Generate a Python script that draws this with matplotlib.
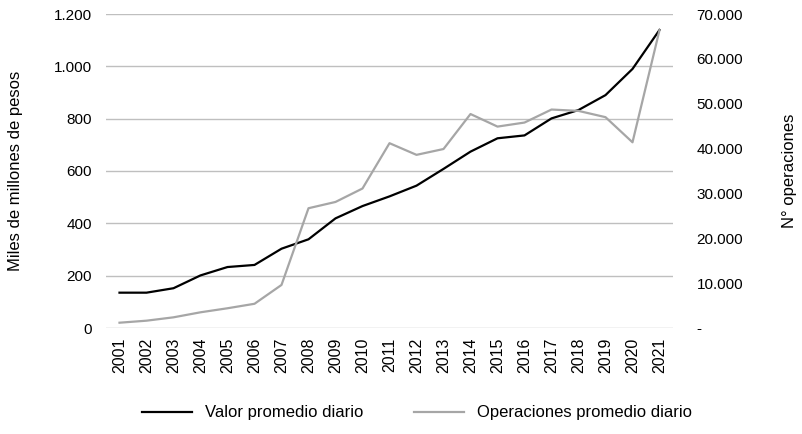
import matplotlib
matplotlib.use("Agg")
import matplotlib.pyplot as plt
from matplotlib.ticker import FuncFormatter

years = [str(y) for y in range(2001, 2022)]
valor = [135, 135, 152, 201, 233, 241, 303, 339, 419, 466, 503, 544, 608, 674, 725, 736, 801, 833, 890, 990, 1139]
operaciones = [1180, 1630, 2380, 3500, 4400, 5400, 9600, 26700, 28100, 31100, 41200, 38600, 39900, 47700,
               44900, 45800, 48700, 48400, 47000, 41400, 66400]

left_ticks = [0, 200, 400, 600, 800, 1000, 1200]
right_ticks = [0, 10000, 20000, 30000, 40000, 50000, 60000, 70000]

plt.rcParams['font.family'] = ['Liberation Sans', 'DejaVu Sans']

fig = plt.figure(figsize=(8.02, 4.34), dpi=100)
ax = fig.add_axes([106/802, (434-328)/434, (673-106)/802, (328-14)/434])
ax2 = ax.twinx()

x = list(range(len(years)))
l1, = ax.plot(x, valor, color='#000000', lw=1.6, label='Valor promedio diario', zorder=3)
l2, = ax2.plot(x, operaciones, color='#a6a6a6', lw=1.6, label='Operaciones promedio diario', zorder=2)

ax.set_xlim(-0.5, len(years) - 0.5)
ax.set_ylim(0, 1200)
ax2.set_ylim(0, 70000)
ax.set_yticks(left_ticks)
ax2.set_yticks(right_ticks)

def fmt_thousands(v, pos):
    if v == 0:
        return '0'
    return f"{int(v):,}".replace(',', '.')

def fmt_right(v, pos):
    if v == 0:
        return '-'
    return f"{int(v):,}".replace(',', '.')

ax.yaxis.set_major_formatter(FuncFormatter(fmt_thousands))
ax2.yaxis.set_major_formatter(FuncFormatter(fmt_right))

ax.set_xticks(x)
ax.set_xticklabels(years, rotation=90, fontsize=11.5)

ax.grid(axis='y', color='#bfbfbf', lw=1)
ax.set_axisbelow(True)
for a in (ax, ax2):
    for s in a.spines.values():
        s.set_visible(False)
    a.tick_params(length=0)
ax.tick_params(axis='y', labelsize=11, pad=10)
ax.tick_params(axis='x', pad=7)
ax2.tick_params(axis='y', labelsize=11, pad=17)

ax.set_ylabel('Miles de millones de pesos', fontsize=12, labelpad=22)
ax2.set_ylabel('N° operaciones', fontsize=12, labelpad=28)

fig.legend(handles=[l1, l2], loc='center', bbox_to_anchor=(0.52, (434-413)/434),
           ncol=2, frameon=False, fontsize=12, handlelength=3, columnspacing=3)

fig.savefig('out.png', dpi=100)
